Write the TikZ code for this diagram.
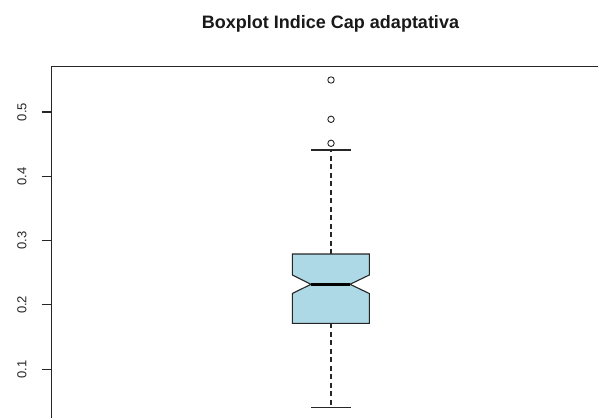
\documentclass[tikz,border=0pt]{standalone}
\usepackage{fontspec}
\setmainfont{Liberation Sans}
\begin{document}
\begin{tikzpicture}[x=1pt,y=-1pt,
  ln/.style={draw=black!85,line width=1.1pt},
  whisk/.style={ln,dash pattern=on 5pt off 3.5pt},
  outl/.style={ln,line width=0.9pt},
  ticklab/.style={font=\fontsize{13}{13}\selectfont,rotate=90,inner sep=0pt,text=black!85},
  titlelab/.style={font=\fontsize{18}{18}\selectfont\bfseries,inner sep=0pt,anchor=base,text=black!90}]
\useasboundingbox (0,0) rectangle (598,418);
\fill[white] (0,0) rectangle (598,418);
% title
\node[titlelab] (title) at (330.5,28) {Boxplot Indice Cap adaptativa};
% frame
\draw[ln] (598,66.7) -- (51.7,66.7) -- (51.7,418);
% ticks and labels
\foreach \v/\y in {0.1/369.2,0.2/304.9,0.3/240.6,0.4/176.3,0.5/112}{
  \draw[ln] (41.7,\y) -- (51.7,\y);
  \node[ticklab] (lab\v) at (22,\y) {\v};
}
% box with notch
\filldraw[fill={rgb,255:red,173;green,216;blue,230},ln]
  (292.3,254) -- (369.3,254) -- (369.3,275) -- (350,284.3) -- (369.3,293.5)
  -- (369.3,323.3) -- (292.3,323.3) -- (292.3,293.5) -- (311,284.3)
  -- (292.3,275) -- cycle;
% median
\draw[black,line width=3.6pt] (311,284.3) -- (350,284.3);
% whiskers
\draw[whisk] (331,254) -- (331,150);
\draw[whisk] (331,323.3) -- (331,407.7);
\draw[ln] (311,150) -- (351,150);
\draw[ln] (311,407.7) -- (351,407.7);
% outliers
\foreach \y in {80,119.3,143.3}{
  \draw[outl] (331,\y) circle (3.2);
}
\end{tikzpicture}
\end{document}
